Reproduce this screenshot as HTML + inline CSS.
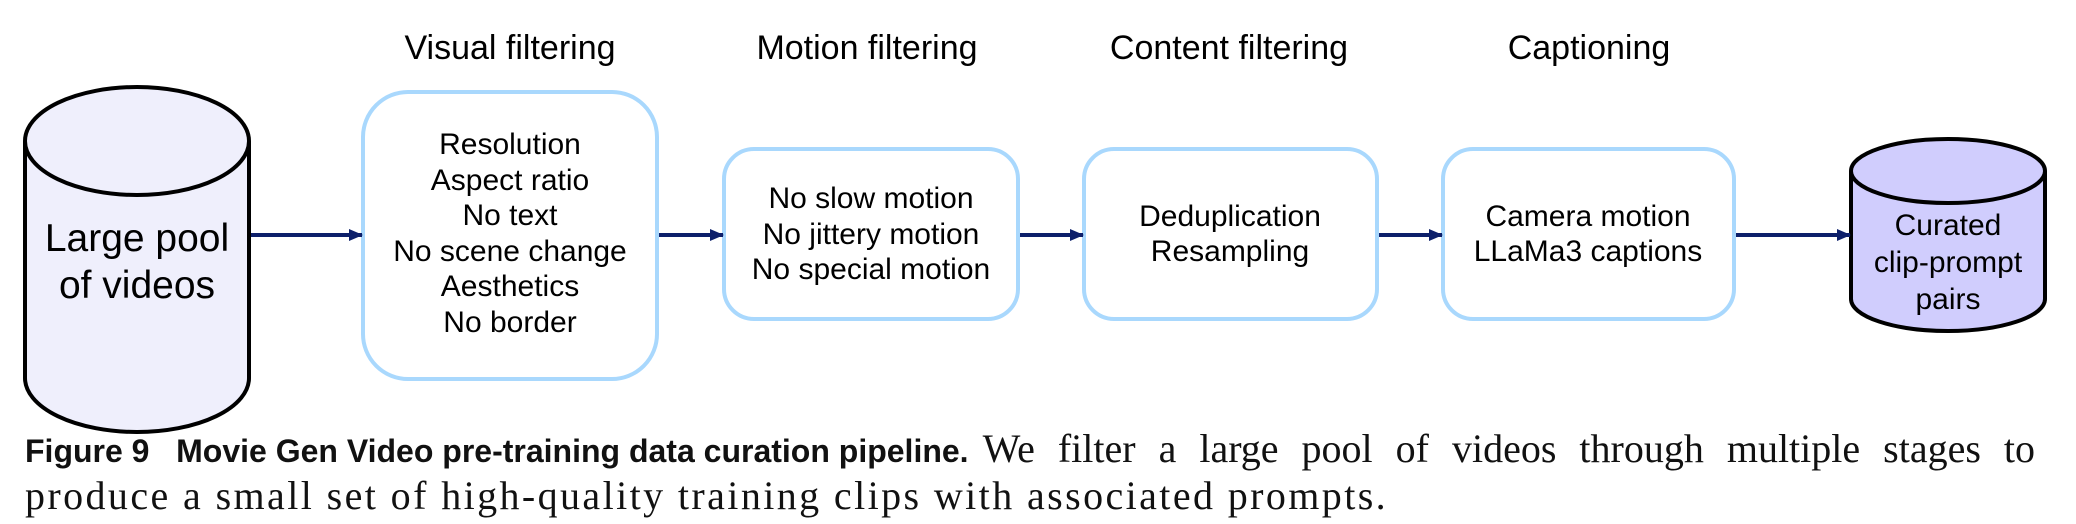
<!DOCTYPE html>
<html><head><meta charset="utf-8"><style>
html,body{margin:0;padding:0;background:#fff;}
body{width:2076px;height:524px;position:relative;overflow:hidden;}
svg{position:absolute;left:0;top:0;}
.cap{position:absolute;left:25px;width:2010px;font-family:"Liberation Serif",serif;font-size:40px;line-height:48px;color:#111;white-space:nowrap;}
.l1{top:425px;display:flex;align-items:baseline;}
.l1 .s{flex:1;text-align:justify;text-align-last:justify;margin-left:14px;}
.l2{top:472px;letter-spacing:2.4px;}
b{font-family:"Liberation Sans",sans-serif;font-size:32px;font-weight:bold;}
</style></head><body>
<svg width="2076" height="524" viewBox="0 0 2076 524" font-family="Liberation Sans, sans-serif">
<defs><marker id="a" markerWidth="14" markerHeight="12" refX="13" refY="6" orient="auto" markerUnits="userSpaceOnUse"><path d="M0,0 L14,6 L0,12 Z" fill="#0d1f6a"/></marker></defs>
<path d="M25,141 L25,378 A112,54 0 0 0 249,378 L249,141" fill="#efeffc" stroke="#000" stroke-width="4"/>
<ellipse cx="137" cy="141" rx="112" ry="54" fill="#efeffc" stroke="#000" stroke-width="4"/>
<text x="137" y="251" font-size="39" text-anchor="middle">Large pool</text>
<text x="137" y="298" font-size="39" text-anchor="middle">of videos</text>
<path d="M1851,171 L1851,299 A97,32 0 0 0 2045,299 L2045,171" fill="#d0cdfd" stroke="#000" stroke-width="4"/>
<ellipse cx="1948" cy="171" rx="97" ry="32" fill="#d0cdfd" stroke="#000" stroke-width="4"/>
<g font-size="30" text-anchor="middle"><text x="1948" y="235">Curated</text><text x="1948" y="272">clip-prompt</text><text x="1948" y="309">pairs</text></g>
<g font-size="34" text-anchor="middle"><text x="510" y="59">Visual filtering</text><text x="867" y="59">Motion filtering</text><text x="1229" y="59">Content filtering</text><text x="1589" y="59">Captioning</text></g>
<g fill="#fff" stroke="#a9d8fd" stroke-width="4">
<rect x="363" y="92" width="294" height="287" rx="45"/>
<rect x="724" y="149" width="294" height="170" rx="30"/>
<rect x="1084" y="149" width="293" height="170" rx="30"/>
<rect x="1443" y="149" width="291" height="170" rx="30"/>
</g>
<g font-size="30" text-anchor="middle">
<text x="510" y="154">Resolution</text><text x="510" y="190">Aspect ratio</text><text x="510" y="225">No text</text><text x="510" y="261">No scene change</text><text x="510" y="296">Aesthetics</text><text x="510" y="332">No border</text>
<text x="871" y="208">No slow motion</text><text x="871" y="244">No jittery motion</text><text x="871" y="279">No special motion</text>
<text x="1230" y="226">Deduplication</text><text x="1230" y="261">Resampling</text>
<text x="1588" y="226">Camera motion</text><text x="1588" y="261">LLaMa3 captions</text>
</g>
<g stroke="#0d1f6a" stroke-width="4" marker-end="url(#a)">
<line x1="251" y1="235" x2="362" y2="235"/>
<line x1="659" y1="235" x2="723" y2="235"/>
<line x1="1020" y1="235" x2="1083" y2="235"/>
<line x1="1379" y1="235" x2="1442" y2="235"/>
<line x1="1736" y1="235" x2="1850" y2="235"/>
</g>
</svg>
<div class="cap l1"><b>Figure 9&nbsp;&nbsp; Movie Gen Video pre-training data curation pipeline.</b><span class="s">We filter a large pool of videos through multiple stages to</span></div>
<div class="cap l2">produce a small set of high-quality training clips with associated prompts.</div>
</body></html>
